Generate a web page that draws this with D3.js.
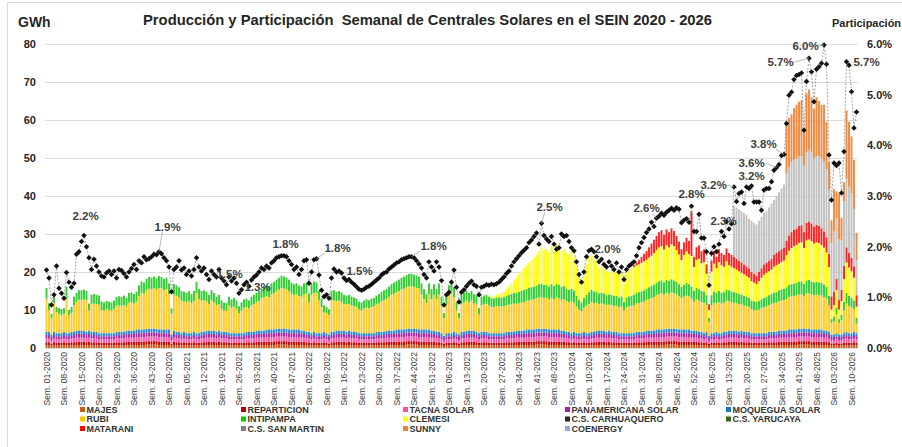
<!DOCTYPE html>
<html>
<head>
<meta charset="utf-8">
<script src="https://cdn.jsdelivr.net/npm/d3@7"></script>
<style>
  body { margin: 0; background: #fff; }
  svg { font-family: "Liberation Sans", Arial, sans-serif; }
  .lbl { font-weight: bold; fill: #404040; }
</style>
</head>
<body>
<svg width="902" height="447"></svg>
<script>
// ---------- categories ----------
const years = [2020, 2021, 2022, 2023, 2024, 2025, 2026];
const weeksInYear = [52, 52, 52, 52, 53, 52, 12];
const weekLabels = [];
years.forEach((yr, k) => {
  for (let w = 1; w <= weeksInYear[k]; w++) weekLabels.push("Sem. " + String(w).padStart(2, "0") + "-" + yr);
});
const N = weekLabels.length;

// ---------- series (GWh per week) ----------
const majes = [
  .7,.7,.6,.7,.7,.7,.7,.7,.7,.7,.7,.7,.8,.8,.8,.8,.7,.8,.7,.7,.7,.7,.7,.7,.7,.7,.7,.7,.7,.7,.7,.7,.8,.8,.8,.8,.8,.8,.8,.8,.9,.9,.9,.9,.9,.8,.8,.8,.8,.8,.6,.8,
  .7,.7,.7,.7,.7,.7,.7,.7,.7,.7,.7,.7,.8,.8,.8,.8,.7,.8,.7,.7,.7,.7,.7,.7,.7,.7,.7,.7,.7,.7,.7,.7,.8,.8,.8,.8,.8,.8,.8,.8,.9,.9,.9,.9,.9,.8,.8,.8,.8,.8,.8,.8,
  .7,.7,.7,.7,.7,.7,.7,.7,.7,.6,.7,.7,.8,.8,.8,.8,.7,.8,.7,.7,.7,.7,.7,.7,.7,.7,.7,.7,.7,.7,.7,.7,.8,.8,.8,.8,.8,.8,.8,.8,.9,.9,.9,.9,.9,.8,.8,.8,.8,.8,.8,.8,
  .7,.7,.7,.5,.7,.7,.7,.7,.7,.6,.7,.7,.8,.8,.8,.8,.7,.7,.7,.7,.7,.7,.7,.7,.7,.7,.7,.7,.7,.7,.7,.7,.8,.8,.8,.8,.8,.8,.8,.8,.9,.9,.9,.9,.9,.8,.8,.8,.8,.8,.8,.8,
  .7,.7,.7,.7,.7,.7,.7,.7,.7,.7,.7,.7,.8,.8,.8,.8,.7,.8,.7,.7,.7,.7,.7,.7,.7,.7,.7,.7,.7,.7,.7,.7,.8,.8,.8,.8,.8,.8,.8,.8,.9,.9,.9,.9,.9,.8,.8,.8,.8,.8,.8,.8,.8,
  .7,.7,.7,.7,.5,.7,.7,.7,.7,.7,.7,.7,.8,.8,.8,.8,.7,.8,.7,.7,.7,.7,.7,.7,.7,.7,.7,.7,.7,.7,.7,.7,.8,.8,.8,.8,.8,.8,.8,.8,.9,.9,.9,.9,.9,.8,.8,.8,.8,.8,.8,.8,
  .7,.6,.6,.7,.6,.6,.7,.7,.7,.7,.7,.7
];
const reparticion = [
  .8,.8,.6,.8,.7,.7,.7,.8,.7,.7,.8,.8,.8,.8,.8,.8,.8,.8,.8,.8,.8,.7,.7,.7,.7,.7,.7,.7,.8,.8,.8,.8,.8,.8,.8,.8,.9,.9,.9,.9,.9,.9,.9,.9,.9,.9,.9,.9,.9,.9,.6,.8,
  .8,.8,.7,.8,.7,.7,.7,.8,.7,.7,.8,.8,.8,.8,.8,.8,.8,.8,.8,.8,.8,.7,.7,.7,.7,.7,.7,.7,.8,.8,.8,.8,.8,.8,.8,.8,.9,.9,.9,.9,.9,.9,.9,.9,.9,.9,.9,.9,.9,.9,.8,.8,
  .8,.8,.7,.8,.7,.7,.7,.8,.7,.6,.8,.8,.8,.8,.8,.8,.8,.8,.8,.8,.8,.7,.7,.7,.7,.7,.7,.7,.8,.8,.8,.8,.8,.8,.8,.8,.9,.9,.9,.9,.9,.9,.9,.9,.9,.9,.9,.9,.9,.9,.8,.8,
  .8,.8,.7,.6,.7,.7,.7,.8,.7,.6,.8,.8,.8,.8,.8,.8,.8,.7,.8,.8,.8,.7,.7,.7,.7,.7,.7,.7,.8,.8,.8,.8,.8,.8,.8,.8,.9,.9,.9,.9,.9,.9,.9,.9,.9,.9,.9,.9,.9,.9,.8,.8,
  .8,.8,.7,.8,.7,.7,.7,.8,.7,.7,.8,.8,.8,.8,.8,.8,.8,.8,.8,.8,.8,.7,.7,.7,.7,.7,.7,.7,.8,.8,.8,.8,.8,.8,.8,.8,.9,.9,.9,.9,.9,.9,.9,.9,.9,.9,.9,.9,.9,.9,.8,.8,.8,
  .8,.8,.7,.8,.6,.7,.7,.8,.7,.7,.8,.8,.8,.8,.8,.8,.8,.8,.8,.8,.8,.7,.7,.7,.7,.7,.7,.7,.8,.8,.8,.8,.8,.8,.8,.8,.9,.9,.9,.9,.9,.9,.9,.9,.9,.9,.9,.9,.9,.9,.8,.8,
  .8,.6,.6,.7,.6,.6,.7,.8,.7,.7,.8,.7
];
const tacna = [
  1,1,.9,1,.9,.9,.9,1,.9,.9,1,1,1.1,1.1,1.1,1.1,1,1.1,1,1,1,.9,.9,.9,.9,.9,.9,.9,1,1,1,1,1.1,1.1,1.1,1.1,1.2,1.2,1.2,1.2,1.2,1.2,1.2,1.2,1.2,1.2,1.2,1.2,1.2,1.2,.9,1.1,
  1,1,.9,1,.9,.9,.9,1,.9,.9,1,1,1.1,1.1,1.1,1.1,1,1.1,1,1,1,.9,.9,.9,.9,.9,.9,.9,1,1,1,1,1.1,1.1,1.1,1.1,1.2,1.2,1.2,1.2,1.2,1.2,1.2,1.2,1.2,1.2,1.2,1.2,1.2,1.2,1.1,1.1,
  1,1,.9,1,.9,.9,.9,1,.9,.9,1,1,1.1,1.1,1.1,1.1,1,1.1,1,1,1,.9,.9,.9,.9,.9,.9,.9,1,1,1,1,1.1,1.1,1.1,1.1,1.2,1.2,1.2,1.2,1.2,1.2,1.2,1.2,1.2,1.2,1.2,1.2,1.2,1.2,1.1,1.1,
  1,1,.9,.8,.9,.9,.9,1,.9,.9,1,1,1.1,1.1,1.1,1.1,1,.9,1,1,1,.9,.9,.9,.9,.9,.9,.9,1,1,1,1,1.1,1.1,1.1,1.1,1.2,1.2,1.2,1.2,1.2,1.2,1.2,1.2,1.2,1.2,1.2,1.2,1.2,1.2,1.1,1.1,
  1,1,.9,1,.9,.9,.9,1,.9,.9,1,1,1.1,1.1,1.1,1.1,1,1.1,1,1,1,.9,.9,.9,.9,.9,.9,.9,1,1,1,1,1.1,1.1,1.1,1.1,1.2,1.2,1.2,1.2,1.2,1.2,1.2,1.2,1.2,1.2,1.2,1.2,1.2,1.2,1.1,1.1,1.1,
  1,1,.9,1,.8,.9,.9,1,.9,.9,1,1,1.1,1.1,1.1,1.1,1,1.1,1,1,1,.9,.9,.9,.9,.9,.9,.9,1,1,1,1,1.1,1.1,1.1,1.1,1.2,1.2,1.2,1.2,1.2,1.2,1.2,1.2,1.2,1.2,1.2,1.2,1.2,1.2,1.1,1.1,
  1,.9,.9,.9,.9,.9,.9,1,.9,.9,1,.9
];
const panamericana = [
  .9,.9,.8,.9,.8,.8,.8,.9,.8,.8,.9,.9,1,1,1,1,.9,1,.9,.9,.9,.8,.8,.8,.8,.8,.8,.8,.9,.9,.9,.9,1,1,1,1,1,1,1,1,1.1,1.1,1.1,1.1,1.1,1,1,1,1,1,.8,1,
  .9,.9,.8,.9,.8,.8,.8,.9,.8,.8,.9,.9,1,1,1,1,.9,1,.9,.9,.9,.8,.8,.8,.8,.8,.8,.8,.9,.9,.9,.9,1,1,1,1,1,1,1,1,1.1,1.1,1.1,1.1,1.1,1,1,1,1,1,1,1,
  .9,.9,.8,.9,.8,.8,.8,.9,.8,.8,.9,.9,1,1,1,1,.9,1,.9,.9,.9,.8,.8,.8,.8,.8,.8,.8,.9,.9,.9,.9,1,1,1,1,1,1,1,1,1.1,1.1,1.1,1.1,1.1,1,1,1,1,1,1,1,
  .9,.9,.8,.7,.8,.8,.8,.9,.8,.8,.9,.9,1,1,1,1,.9,.8,.9,.9,.9,.8,.8,.8,.8,.8,.8,.8,.9,.9,.9,.9,1,1,1,1,1,1,1,1,1.1,1.1,1.1,1.1,1.1,1,1,1,1,1,1,1,
  .9,.9,.8,.9,.8,.8,.8,.9,.8,.8,.9,.9,1,1,1,1,.9,1,.9,.9,.9,.8,.8,.8,.8,.8,.8,.8,.9,.9,.9,.9,1,1,1,1,1,1,1,1,1.1,1.1,1.1,1.1,1.1,1,1,1,1,1,1,1,1,
  .9,.9,.8,.9,.7,.8,.8,.9,.8,.8,.9,.9,1,1,1,1,.9,1,.9,.9,.9,.8,.8,.8,.8,.8,.8,.8,.9,.9,.9,.9,1,1,1,1,1,1,1,1,1.1,1.1,1.1,1.1,1.1,1,1,1,1,1,1,1,
  .9,.8,.8,.8,.8,.8,.8,.9,.8,.8,.9,.8
];
const moquegua = [
  .9,.9,.7,.9,.8,.8,.8,.9,.8,.8,.9,.9,.9,.9,.9,.9,.9,.9,.9,.9,.9,.8,.8,.8,.8,.8,.8,.8,.9,.9,.9,.9,.9,.9,.9,.9,1,1,1,1,1,1,1,1,1,1,1,1,1,1,.7,.9,
  .9,.9,.8,.9,.8,.8,.8,.9,.8,.8,.9,.9,.9,.9,.9,.9,.9,.9,.9,.9,.9,.8,.8,.8,.8,.8,.8,.8,.9,.9,.9,.9,.9,.9,.9,.9,1,1,1,1,1,1,1,1,1,1,1,1,1,1,.9,.9,
  .9,.9,.8,.9,.8,.8,.8,.9,.8,.7,.9,.9,.9,.9,.9,.9,.9,.9,.9,.9,.9,.8,.8,.8,.8,.8,.8,.8,.9,.9,.9,.9,.9,.9,.9,.9,1,1,1,1,1,1,1,1,1,1,1,1,1,1,.9,.9,
  .9,.9,.8,.6,.8,.8,.8,.9,.8,.7,.9,.9,.9,.9,.9,.9,.9,.8,.9,.9,.9,.8,.8,.8,.8,.8,.8,.8,.9,.9,.9,.9,.9,.9,.9,.9,1,1,1,1,1,1,1,1,1,1,1,1,1,1,.9,.9,
  .9,.9,.8,.9,.8,.8,.8,.9,.8,.8,.9,.9,.9,.9,.9,.9,.9,.9,.9,.9,.9,.8,.8,.8,.8,.8,.8,.8,.9,.9,.9,.9,.9,.9,.9,.9,1,1,1,1,1,1,1,1,1,1,1,1,1,1,.9,.9,.9,
  .9,.9,.8,.9,.6,.8,.8,.9,.8,.8,.9,.9,.9,.9,.9,.9,.9,.9,.9,.9,.9,.8,.8,.8,.8,.8,.8,.8,.9,.9,.9,.9,.9,.9,.9,.9,1,1,1,1,1,1,1,1,1,1,1,1,1,1,.9,.9,
  .9,.7,.7,.8,.7,.7,.8,.9,.8,.8,.9,.8
];
const rubi = [
  8.7,5.7,4.2,7.5,5.5,5.1,4.7,4.7,9.3,4.6,4.9,7.0,7.5,8.1,8.0,8.2,8.2,5.3,7.3,7.4,7.3,7.5,6.1,6.0,6.3,6.1,6.0,6.4,6.8,6.9,6.8,7.0,6.3,7.4,7.4,7.1,7.3,8.8,9.6,9.4,10.1,10.5,10.4,10.6,10.2,10.9,10.8,10.3,10.6,9.3,5.4,9.4,
  9.4,9.0,8.5,8.0,8.1,8.5,7.9,8.1,10.5,9.0,8.2,8.3,7.7,7.0,8.0,7.4,6.9,7.0,6.0,5.6,5.5,7.3,6.7,7.0,6.4,5.3,6.0,6.7,6.5,6.1,6.9,7.3,7.4,7.8,8.5,8.7,8.8,8.5,9.2,9.5,9.9,10.3,10.7,10.6,10.3,10.1,9.4,9.1,9.2,8.8,8.9,9.5,
  10.0,7.7,10.2,10.2,10.5,8.6,6.9,5.1,5.2,5.1,8.2,8.3,7.7,7.9,7.5,7.0,7.2,7.0,6.9,6.7,6.5,6.2,6.1,6.5,6.7,6.6,6.9,7.1,7.2,7.5,8.0,8.3,8.3,8.9,9.4,9.7,9.7,10.1,10.5,10.7,10.9,11.1,11.2,11.0,10.7,10.8,9.2,8.0,6.9,9.2,8.3,9.4,
  8.6,9.8,7.3,4.6,7.5,9.8,11.0,9.0,6.1,4.2,7.3,7.7,7.9,7.4,7.9,7.2,7.2,4.9,6.9,7.2,7.3,7.3,6.9,6.9,7.1,7.1,7.0,7.1,6.9,7.1,7.2,7.4,7.0,7.2,7.3,7.5,7.5,7.6,7.8,7.9,8.0,8.2,8.3,8.1,8.1,7.9,8.3,8.0,8.4,8.2,8.1,8.2,
  8.0,7.8,8.3,7.6,7.0,6.2,5.8,6.3,7.2,7.7,7.8,7.5,7.3,7.0,7.1,7.0,6.9,6.8,7.0,6.8,6.8,6.8,7.0,6.0,6.8,7.0,7.2,7.3,7.4,7.5,7.7,7.9,8.0,8.3,8.5,8.8,9.0,9.3,9.5,9.1,9.4,9.2,9.5,9.3,9.0,8.7,8.2,8.6,8.9,8.7,8.5,7.6,8.2,
  8.2,7.8,8.0,7.0,3.6,7.3,8.0,7.5,8.1,7.8,7.6,8.1,7.7,7.5,7.3,7.2,7.2,6.9,6.9,6.7,6.5,6.3,6.1,6.0,6.2,6.5,6.8,7.0,7.0,7.2,7.5,7.6,7.7,7.9,8.0,8.3,8.5,8.7,8.8,8.9,9.0,9.0,8.6,9.2,9.3,9.2,9.0,9.1,9.0,8.9,8.8,8.4,
  7.0,3.0,3.5,5.0,3.0,3.8,6.0,7.5,7.2,6.8,6.0,2.5
];
const intipampa = [
  2.8,1.8,1.2,2.2,1.4,1.5,1.6,1.5,2.9,1.5,1.6,2.2,2.4,2.5,2.6,2.6,2.5,1.8,2.4,2.5,2.4,2.4,2.2,2.1,2.2,2.2,2.1,2.2,2.3,2.4,2.4,2.5,2.3,2.5,2.6,2.5,2.6,2.8,3.0,2.9,3.0,3.1,3.0,3.1,3.0,3.1,3.0,3.0,3.0,2.8,1.4,2.8,
  2.8,2.7,2.6,2.5,2.5,2.6,2.4,2.6,3.0,2.6,2.5,2.6,2.5,2.4,2.6,2.5,2.3,2.4,2.2,2.1,2.0,2.3,2.2,2.3,2.2,1.8,2.1,2.2,2.2,2.1,2.3,2.4,2.5,2.6,2.7,2.7,2.8,2.8,2.9,3.0,3.0,3.1,3.2,3.1,3.1,3.0,2.9,2.8,2.9,2.8,2.7,2.9,
  2.9,2.4,2.9,3.0,2.9,2.5,2.2,1.8,1.7,1.5,2.5,2.6,2.5,2.5,2.5,2.4,2.3,2.4,2.3,2.3,2.2,2.1,2.0,2.1,2.2,2.1,2.2,2.2,2.3,2.4,2.5,2.6,2.6,2.7,2.8,2.9,3.0,3.0,3.1,3.2,3.2,3.3,3.3,3.2,3.2,3.1,2.9,2.6,2.4,2.9,2.6,2.8,
  2.6,2.9,2.3,1.4,2.3,2.8,3.0,2.7,2.0,1.4,2.4,2.5,2.5,2.5,2.5,2.4,2.3,1.7,2.3,2.3,2.4,2.3,2.3,2.3,2.3,2.3,2.4,2.4,2.5,2.6,2.7,2.8,2.9,3.0,3.1,3.2,3.2,3.3,3.3,3.4,3.4,3.5,3.5,3.4,3.5,3.4,3.6,3.4,3.6,3.5,3.4,3.5,
  3.3,3.2,3.4,3.2,2.9,2.5,2.3,2.6,2.9,3.1,3.2,3.1,3.0,2.8,2.8,2.8,2.7,2.7,2.7,2.6,2.6,2.6,2.7,2.2,2.6,2.7,2.7,2.8,2.8,2.9,2.9,3.0,3.0,3.1,3.2,3.3,3.3,3.4,3.4,3.3,3.4,3.4,3.5,3.4,3.3,3.2,3.0,3.2,3.3,3.2,3.1,2.8,3.0,
  3.0,2.9,3.0,2.6,1.2,2.7,3.0,2.8,3.0,2.9,2.8,3.0,2.9,2.8,2.8,2.7,2.7,2.6,2.6,2.5,2.4,2.3,2.3,2.2,2.3,2.4,2.5,2.6,2.6,2.7,2.8,2.8,2.9,2.9,3.0,3.1,3.2,3.2,3.3,3.3,3.4,3.4,3.2,3.5,3.5,3.4,3.4,3.4,3.4,3.3,3.3,3.1,
  2.5,1.0,1.2,1.8,1.0,1.4,2.2,2.7,2.6,2.5,2.2,1.5
];
// from Sem. 22-2023
const clemesiStart = 177;
const clemesi = [
  0.3,0.4,0.5,0.7,0.9,1.1,1.4,1.8,2.2,2.8,3.3,4.0,4.7,5.2,5.7,6.2,6.7,7.2,7.6,8.0,8.7,9.6,9.2,9.3,8.8,10.0,9.2,10.4,9.9,9.4,9.7,
  9.4,9.2,10.4,8.9,7.7,5.9,5.0,5.8,8.0,9.3,9.2,8.6,8.1,6.6,6.9,6.4,6.3,5.9,6.5,6.1,6.3,6.2,6.6,4.9,6.5,6.9,7.2,7.3,7.2,7.3,7.5,7.6,7.6,7.8,8.0,8.3,8.6,8.9,9.0,8.6,9.1,8.8,9.2,9.0,8.4,7.8,7.0,7.8,8.3,7.9,8.0,6.3,7.4,
  8.0,7.3,7.7,5.6,2.0,6.2,7.3,6.4,7.6,7.2,6.7,7.4,6.6,6.5,6.3,6.1,6.0,5.7,5.6,5.4,5.3,5.1,4.9,4.7,5.2,5.7,6.1,6.3,6.3,6.4,6.8,7.1,7.0,7.2,7.4,8.4,9.0,9.5,9.8,10.0,10.2,10.3,9.4,10.5,10.7,10.6,10.2,10.4,10.3,10.0,9.7,9.0,
  7.5,2.5,3.0,4.5,2.5,3.5,6.0,8.0,7.5,7.0,6.0,3.0
];
const carhuaquero = [];
const yarucaya = [];
// from Sem. 28-2024
const mataraniStart = 235;
const matarani = [
  0.5,0.8,1.2,1.6,2.0,2.3,2.7,3.2,3.5,3.7,4.0,4.2,3.9,4.2,4.0,4.2,4.0,3.7,3.4,2.9,3.3,3.6,3.5,11.7,2.7,3.3,
  3.5,3.2,3.4,2.5,1.5,2.9,3.3,3.0,3.4,3.2,3.1,3.4,3.2,3.1,3.0,2.9,2.8,2.7,2.6,2.6,2.5,2.4,2.3,2.2,2.4,2.5,2.7,2.7,2.8,2.9,3.1,3.2,3.3,3.4,3.5,3.8,4.0,4.2,4.3,4.4,4.5,4.5,4.2,4.6,4.7,4.7,4.5,4.6,4.5,4.4,4.3,4.0,
  3.5,3.5,3.5,3.0,2.5,3.0,3.5,4.0,3.8,3.5,3.0,3.0
];
// from Sem. 15-2025
const sanMartinStart = 275;
const sanMartin = [
  13.5,13.5,13.5,13.5,13.5,13.5,13.0,13.5,13.5,13.5,13.5,13.5,13.5,13.5,14.0,14.5,14.5,15.0,15.5,16.0,16.5,
  17.8,18.0,18.5,18.5,18.5,18.3,18.2,17.5,18.6,18.7,18.7,18.0,18.1,18.4,18.5,18.3,17.9,
  16.8,14.0,16.0,16.0,16.0,13.0,17.0,18.0,17.5,17.0,15.0,9.3
];
// from Sem. 36-2025
const sunnyStart = 296;
const sunny = [
  13.0,13.0,12.5,13.5,14.0,14.3,14.7,10.0,15.5,16.0,14.5,13.0,15.5,14.5,14.0,15.0,12.5,
  7.5,6.0,11.0,7.0,12.0,6.0,5.0,18.0,17.0,15.0,13.0,7.1
];
const coenergy = [];

// participation in SEIN production (%)
const participation = [
  1.54,1.38,0.85,1.05,1.62,1.18,1.08,0.98,1.49,1.30,1.20,1.28,1.85,1.90,2.10,2.22,2.00,1.78,1.55,1.75,1.62,1.50,1.42,1.40,1.48,1.52,1.45,1.52,1.38,1.55,1.53,1.47,1.40,1.50,1.57,1.65,1.55,1.72,1.68,1.80,1.74,1.76,1.80,1.85,1.84,1.90,1.86,1.78,1.72,1.60,1.11,1.55,
  1.60,1.72,1.54,1.58,1.45,1.52,1.42,1.55,1.78,1.60,1.52,1.58,1.45,1.35,1.52,1.45,1.40,1.55,1.38,1.32,1.25,1.40,1.32,1.38,1.28,1.08,1.15,1.25,1.30,1.22,1.34,1.40,1.44,1.50,1.58,1.55,1.62,1.58,1.68,1.72,1.78,1.80,1.82,1.82,1.80,1.72,1.65,1.55,1.60,1.45,1.55,1.72,
  1.74,1.28,1.50,1.74,1.76,1.44,1.14,1.01,1.05,0.98,1.38,1.56,1.50,1.52,1.48,1.38,1.33,1.35,1.30,1.26,1.21,1.16,1.14,1.16,1.20,1.22,1.26,1.30,1.34,1.38,1.44,1.48,1.50,1.56,1.60,1.64,1.68,1.70,1.74,1.76,1.78,1.80,1.80,1.78,1.72,1.66,1.58,1.45,1.38,1.70,1.60,1.52,
  1.70,1.60,1.33,0.85,1.05,1.10,1.30,1.54,1.20,0.91,1.10,1.15,1.22,1.28,1.32,1.25,1.22,1.05,1.20,1.22,1.25,1.24,1.26,1.25,1.27,1.30,1.35,1.40,1.47,1.52,1.62,1.70,1.76,1.82,1.88,1.93,1.98,2.08,2.13,2.20,2.27,2.05,2.46,2.22,2.15,2.10,2.20,2.05,1.95,1.98,2.25,2.20,
  2.22,2.10,1.98,1.92,1.70,1.45,1.30,1.50,1.80,1.92,1.95,1.90,1.80,1.70,1.75,1.65,1.60,1.70,1.62,1.55,1.68,1.50,1.60,1.35,1.55,1.62,1.66,1.70,1.82,1.98,2.08,2.18,2.28,2.35,2.48,2.40,2.56,2.60,2.66,2.62,2.68,2.72,2.76,2.72,2.77,2.74,2.47,2.52,2.55,2.48,2.80,2.30,2.30,
  2.64,2.17,2.17,1.90,1.24,1.87,2.00,1.90,2.05,2.30,2.20,2.49,2.35,2.45,3.18,2.89,3.05,3.08,2.85,3.18,3.15,3.20,2.88,2.88,2.88,2.72,3.12,3.15,3.15,3.28,3.51,3.56,3.62,3.80,3.82,4.43,4.99,5.05,5.30,5.38,5.40,5.43,4.30,5.26,5.72,5.45,4.86,5.50,5.55,5.62,5.98,5.60,
  3.81,2.92,3.65,3.60,3.65,3.06,3.88,5.65,5.58,5.06,4.34,4.66
];

// annotated participation points: week index and text shown
const calloutWeeks = [15, 45, 72, 78, 95, 108, 126, 146, 198, 221, 244, 258, 270, 275, 281, 292, 295, 305, 311, 320];
const calloutTexts = ["2.2%","1.9%","1.5%","1.3%","1.8%","1.8%","1.5%","1.8%","2.5%","2.0%","2.6%","2.8%","2.3%","3.2%","3.2%","3.6%","3.8%","5.7%","6.0%","5.7%"];

const seriesNames = ["MAJES","REPARTICION","TACNA SOLAR","PANAMERICANA SOLAR","MOQUEGUA SOLAR",
  "RUBI","INTIPAMPA","CLEMESI","C.S. CARHUAQUERO","C.S. YARUCAYA",
  "MATARANI","C.S. SAN MARTIN","SUNNY","COENERGY"];

// ---------- styles ----------
const seriesColors = ["#c55a11","#c00000","#ff5aac","#a8249f","#2a84d2",
  "#ffcb2e","#33cc33","#ffff1a","#262626","#3a5f22",
  "#ff2222","#c2c2c2","#f0883e","#8eaadb"];
const legendColors = ["#c55a11","#c00000","#ff4da6","#a61ca6","#1677cc",
  "#ffc000","#00cc00","#ffff00","#262626","#3a5f22",
  "#ff0000","#808080","#ee8434","#8eaadb"];
// label offsets from the annotated point [dx, dy, leader]
const calloutOffsets = [[1.5,-20,0],[8.5,-25,1],[3,-11,0],[16,-3,0],[1.5,-12,0],[21,-11,1],[-2,-19,0],[22,-11,1],
  [8,-16,1],[8.5,-13,0],[-10,-10,1],[0,-12,0],[2,-10.5,0],[-20.5,-2,1],[2.5,-12.5,0],[-25,-4.6,1],[-20.5,-10.4,1],
  [-28.5,3.8,1],[-18.5,1,1],[20,0,0]];

// ---------- helpers ----------
const pad = (start, vals) => Array.from({length: N}, (_, i) => i < start ? 0 : (vals[i - start] || 0));
const seriesData = {
  "MAJES": pad(0, majes), "REPARTICION": pad(0, reparticion), "TACNA SOLAR": pad(0, tacna),
  "PANAMERICANA SOLAR": pad(0, panamericana), "MOQUEGUA SOLAR": pad(0, moquegua),
  "RUBI": pad(0, rubi), "INTIPAMPA": pad(0, intipampa), "CLEMESI": pad(clemesiStart, clemesi),
  "C.S. CARHUAQUERO": pad(0, carhuaquero), "C.S. YARUCAYA": pad(0, yarucaya),
  "MATARANI": pad(mataraniStart, matarani), "C.S. SAN MARTIN": pad(sanMartinStart, sanMartin),
  "SUNNY": pad(sunnyStart, sunny), "COENERGY": pad(0, coenergy)
};

const svg = d3.select("svg");

svg.append("rect").attr("x", 7.5).attr("y", 2.5).attr("width", 900).attr("height", 450)
  .attr("fill", "none").attr("stroke", "#d9d9d9");

const x = d3.scaleBand().domain(d3.range(N)).range([45.25, 857.75]).paddingInner(0.24).paddingOuter(0.12);
const y = d3.scaleLinear().domain([0, 80]).range([348, 44]);
const yP = d3.scaleLinear().domain([0, 6]).range([348, 44]);
const cx = i => x(i) + x.bandwidth() / 2;

// grid
svg.append("g").selectAll("line").data(y.ticks(8)).join("line")
  .attr("x1", 45).attr("x2", 858).attr("y1", d => y(d) + 0.5).attr("y2", d => y(d) + 0.5)
  .attr("stroke", "#dcdcdc").attr("stroke-width", 1);

// left axis
svg.append("g").selectAll("text").data(y.ticks(8)).join("text")
  .attr("class", "lbl").attr("x", 36).attr("y", d => y(d) + 4).attr("text-anchor", "end")
  .style("font-size", "11px").style("fill", "#262626").text(d => d);
// right axis
svg.append("g").selectAll("text").data(yP.ticks(6)).join("text")
  .attr("class", "lbl").attr("x", 867).attr("y", d => yP(d) + 4)
  .style("font-size", "11px").style("fill", "#262626").text(d => d3.format(".1f")(d) + "%");

// stacked bars
const layers = d3.stack().keys(seriesNames).value((i, k) => seriesData[k][i])(d3.range(N));
svg.append("g").selectAll("g").data(layers).join("g")
  .attr("fill", (d, k) => seriesColors[k])
  .selectAll("rect")
  .data(d => d.map((p, i) => ({i, y0: p[0], y1: p[1]})).filter(p => p.y1 - p.y0 > 0))
  .join("rect")
  .attr("x", p => x(p.i)).attr("width", x.bandwidth())
  .attr("y", p => y(p.y1)).attr("height", p => y(p.y0) - y(p.y1));

// participation line
svg.append("path").datum(participation)
  .attr("d", d3.line().x((p, i) => cx(i)).y(p => yP(p)))
  .attr("fill", "none").attr("stroke", "#8c8c8c").attr("stroke-width", 0.8).attr("stroke-dasharray", "2,1.5");
svg.append("g").selectAll("path").data(participation).join("path")
  .attr("transform", (p, i) => `translate(${cx(i)},${yP(p)}) rotate(45)`)
  .attr("d", d3.symbol(d3.symbolSquare, 15)).attr("fill", "#111");

// callouts
const cg = svg.append("g");
calloutWeeks.forEach((wk, k) => {
  const px = cx(wk), py = yP(participation[wk]);
  const [dx, dy, leader] = calloutOffsets[k];
  const lx = px + dx, ly = py + dy;
  if (leader) {
    const ex = lx - Math.sign(dx) * Math.min(Math.abs(dx) * 0.6, 14);
    const ey = ly + (dy < -8 ? 5 : 0);
    cg.append("line").attr("x1", px).attr("y1", py).attr("x2", ex).attr("y2", ey)
      .attr("stroke", "#a6a6a6").attr("stroke-width", 0.8);
  }
  cg.append("text").attr("class", "lbl").attr("x", lx).attr("y", ly + 4)
    .attr("text-anchor", "middle").style("font-size", "11.5px").text(calloutTexts[k]);
});

// x tick labels
svg.append("g").selectAll("text").data(d3.range(0, N, 7)).join("text")
  .attr("transform", i => `translate(${cx(i) + 3},352) rotate(-90)`)
  .attr("text-anchor", "end").style("font-size", "8.5px").style("fill", "#404040")
  .text(i => weekLabels[i]);

// titles
svg.append("text").attr("class", "lbl").attr("x", 143).attr("y", 25)
  .attr("textLength", 569).attr("lengthAdjust", "spacingAndGlyphs")
  .style("font-size", "14px").style("fill", "#262626").style("white-space", "pre")
  .text("Producción y Participación  Semanal de Centrales Solares en el SEIN 2020 - 2026");
svg.append("text").attr("class", "lbl").attr("x", 18).attr("y", 27)
  .style("font-size", "14px").style("fill", "#262626").text("GWh");
svg.append("text").attr("class", "lbl").attr("x", 832).attr("y", 27)
  .style("font-size", "11px").style("fill", "#262626").text("Participación");

// legend
const legCols = [80, 241, 403, 565, 726];
const legRows = [409.5, 419, 428.5];
const lg = svg.append("g");
seriesNames.forEach((name, k) => {
  const gx = legCols[k % 5], gy = legRows[Math.floor(k / 5)];
  lg.append("rect").attr("x", gx).attr("y", gy - 2.5).attr("width", 5).attr("height", 5).attr("fill", legendColors[k]);
  lg.append("text").attr("class", "lbl").attr("x", gx + 6.5).attr("y", gy + 3.2)
    .style("font-size", "9px").style("fill", "#333").text(name);
});
</script>
</body>
</html>
